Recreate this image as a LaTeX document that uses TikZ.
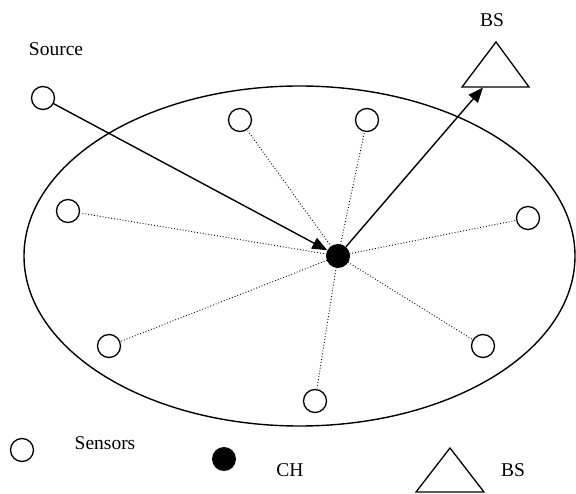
\documentclass[tikz,border=0pt]{standalone}
\usepackage{fontspec}
\setmainfont{Liberation Serif}
\usetikzlibrary{arrows.meta}
\begin{document}
\begin{tikzpicture}[x=1pt,y=-1pt,
  sensor/.style={circle,draw,line width=1.3pt,minimum size=23pt,inner sep=0pt},
  chnode/.style={circle,fill=black,minimum size=24pt,inner sep=0pt},
  lbl/.style={font=\fontsize{19.5}{22}\selectfont,inner sep=0pt},
  link/.style={dotted,line width=0.9pt,shorten >=1pt},
  flow/.style={line width=1.4pt,-{Triangle[length=15pt,width=12pt]}},
  bsshape/.style={line width=1.3pt,line join=miter}]
\useasboundingbox (0,0) rectangle (576,494);
\draw[line width=1.4pt] (299.5,256) ellipse [x radius=275.5,y radius=170];
% sensors
\node[sensor] (src) at (43,98) {};
\node[sensor] (s1) at (240,120) {};
\node[sensor] (s2) at (367,120) {};
\node[sensor] (s3) at (68,211) {};
\node[sensor] (s4) at (528,218) {};
\node[sensor] (s5) at (109,346) {};
\node[sensor] (s6) at (483,346) {};
\node[sensor] (s7) at (315,401) {};
\coordinate (chc) at (338,256);
\foreach \s in {s1,s2,s3,s4,s5,s6,s7} \draw[link] (chc) -- (\s);
\node[chnode] (ch) at (chc) {};
% base station
\draw[bsshape] (496,42) -- (529,87) -- (462,87) -- cycle;
\coordinate (bstip) at (483,87.5);
\node[lbl] (bslbl) at (492,20) {BS};
\node[lbl] (srclbl) at (56,49) {Source};
\draw[flow] (src) -- (ch);
\draw[flow] (ch) -- (bstip);
% legend
\node[sensor] (legs) at (22,450) {};
\node[lbl] (legslbl) at (105,443) {Sensors};
\node[chnode] (legch) at (224,459) {};
\node[lbl] (legchlbl) at (290,470) {CH};
\draw[bsshape] (450,448) -- (484,492) -- (416,492) -- cycle;
\node[lbl] (legbslbl) at (513,470) {BS};
\end{tikzpicture}
\end{document}
